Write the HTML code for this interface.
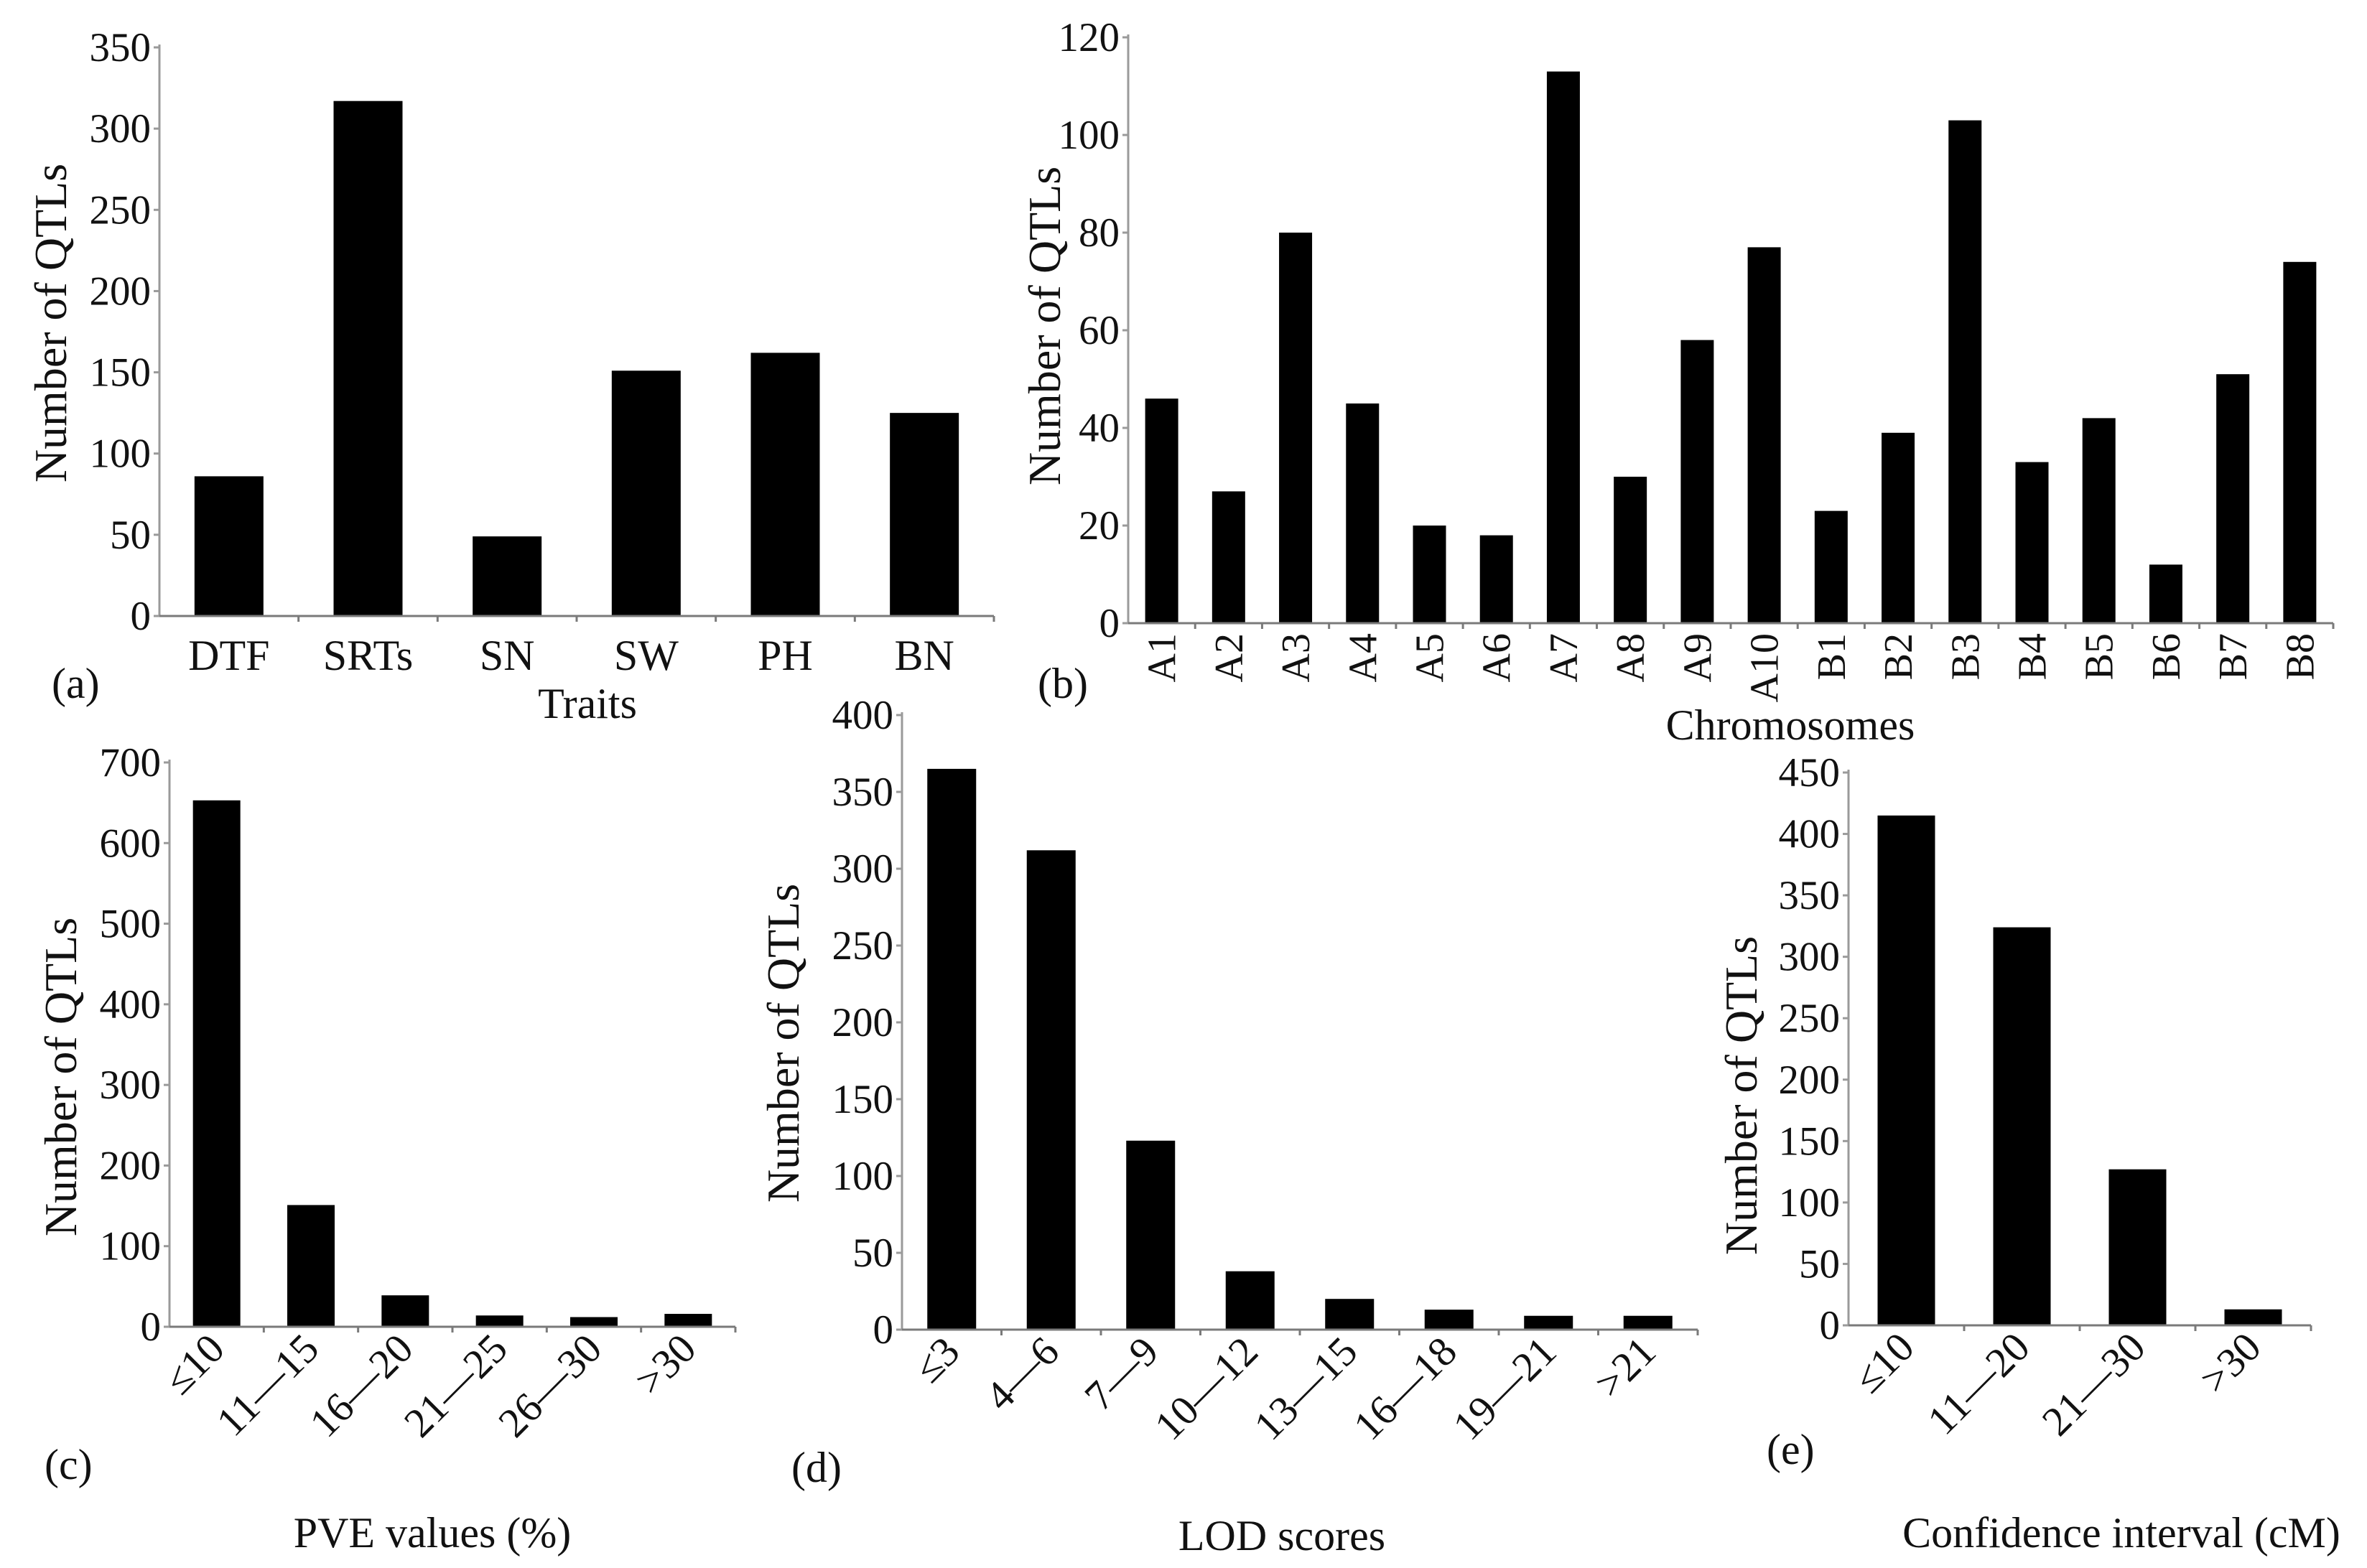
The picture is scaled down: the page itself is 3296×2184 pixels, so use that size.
<!DOCTYPE html>
<html>
<head>
<meta charset="utf-8">
<style>
html,body{margin:0;padding:0;background:#fff;}
svg{display:block;}
text{font-family:"Liberation Serif","DejaVu Serif",serif;fill:#111;}
</style>
</head>
<body>
<svg id="fig" width="3296" height="2184" viewBox="0 0 3296 2184" xmlns="http://www.w3.org/2000/svg">
<rect x="0" y="0" width="3296" height="2184" fill="#fff"/>
</svg>
<script>
// ---- data ----
const catsA = ["DTF","SRTs","SN","SW","PH","BN"];
const valsA = [86,317,49,151,162,125];
const ticksA = [0,50,100,150,200,250,300,350];

const catsB = ["A1","A2","A3","A4","A5","A6","A7","A8","A9","A10","B1","B2","B3","B4","B5","B6","B7","B8"];
const valsB = [46,27,80,45,20,18,113,30,58,77,23,39,103,33,42,12,51,74];
const ticksB = [0,20,40,60,80,100,120];

const catsC = ["\u226410","11\u201415","16\u201420","21\u201425","26\u201430",">30"];
const valsC = [653,151,39,14,12,16];
const ticksC = [0,100,200,300,400,500,600,700];

const catsD = ["\u22643","4\u20146","7\u20149","10\u201412","13\u201415","16\u201418","19\u201421",">21"];
const valsD = [365,312,123,38,20,13,9,9];
const ticksD = [0,50,100,150,200,250,300,350,400];

const catsE = ["\u226410","11\u201420","21\u201430",">30"];
const valsE = [415,324,127,13];
const ticksE = [0,50,100,150,200,250,300,350,400,450];

const NS = "http://www.w3.org/2000/svg";
const svg = document.getElementById("fig");
function mk(tag, attrs, parent, txt){
  const e = document.createElementNS(NS, tag);
  for (const k in attrs) e.setAttribute(k, attrs[k]);
  if (txt !== undefined) e.textContent = txt;
  (parent||svg).appendChild(e);
  return e;
}

function panel(p, cats, vals, ticks){
  const g = mk("g", {});
  
  
  const maxV = ticks[ticks.length-1];
  const yS = v => p.y0 - (p.y0 - p.yTop) * v / maxV;
  const band = (p.xEnd - p.x0) / cats.length;
  const xC = i => p.x0 + band * (i + 0.5);
  vals.forEach((v,i)=>{
    const r = mk("rect", {x: xC(i)-p.bw/2, y: yS(v), width: p.bw, height: p.y0 - yS(v), fill:"#000"}, g);
    
    
  });
  const ya = mk("line", {x1:p.x0, y1:p.yTop-4, x2:p.x0, y2:p.y0, stroke:"#9a9a9a", "stroke-width":3}, g);
  
  
  const xa = mk("line", {x1:p.x0-8, y1:p.y0, x2:p.xEnd, y2:p.y0, stroke:"#7a7a7a", "stroke-width":3}, g);
  
  
  for (let i=1;i<=cats.length;i++){
    mk("line", {x1:p.x0+band*i, y1:p.y0, x2:p.x0+band*i, y2:p.y0+8, stroke:"#7a7a7a","stroke-width":3}, g);
  }
  ticks.forEach(t=>{
    mk("line", {x1:p.x0-8, y1:yS(t), x2:p.x0, y2:yS(t), stroke:"#9a9a9a","stroke-width":3}, g);
    const tl = mk("text", {x:p.x0-12, y:yS(t)+19, "text-anchor":"end", "font-size":57}, g, String(t));
    
    
  });
  cats.forEach((c,i)=>{
    let t;
    if (p.rot === 0){
      t = mk("text", {x:xC(i), y:p.y0+75, "text-anchor":"middle", "font-size":60}, g, c);
    } else if (p.rot === 90){
      t = mk("text", {x:xC(i)+19, y:p.y0+14, "text-anchor":"end", "font-size":56,
        transform:`rotate(-90 ${xC(i)+19} ${p.y0+14})`}, g, c);
    } else {
      const ax = xC(i)+14, ay = p.y0+34;
      t = mk("text", {x:ax, y:ay, "text-anchor":"end", "font-size":58,
        transform:`rotate(-45 ${ax} ${ay})`}, g, c);
    }
    
    
  });
  const yt = mk("text", {x:p.ytx, y:p.yty, "text-anchor":"middle", "font-size":64,
    transform:`rotate(-90 ${p.ytx} ${p.yty})`}, g, "Number of QTLs");
  
  
  const xt = mk("text", {x:p.xtx, y:p.xty, "text-anchor":"middle", "font-size":60}, g, p.xtitle);
  
  
  const pl = mk("text", {x:p.lx, y:p.ly, "font-size":60}, g, p.letter);
  
  
}

panel({name:"panel-a-traits", x0:222, xEnd:1384, y0:858, yTop:66, bw:96, rot:0,
  ytx:92, yty:450, xtx:818, xty:1000, xtitle:"Traits", lx:72, ly:972, letter:"(a)"}, catsA, valsA, ticksA);

panel({name:"panel-b-chromosomes", x0:1571, xEnd:3249, y0:868, yTop:52, bw:46, rot:90,
  ytx:1476, yty:454, xtx:2493, xty:1030, xtitle:"Chromosomes", lx:1445, ly:972, letter:"(b)"}, catsB, valsB, ticksB);

panel({name:"panel-c-pve", x0:236, xEnd:1024, y0:1848, yTop:1062, bw:66, rot:45,
  ytx:106, yty:1500, xtx:602, xty:2155, xtitle:"PVE values (%)", lx:62, ly:2060, letter:"(c)"}, catsC, valsC, ticksC);

panel({name:"panel-d-lod", x0:1256, xEnd:2364, y0:1852, yTop:996, bw:68, rot:45,
  ytx:1112, yty:1453, xtx:1785, xty:2159, xtitle:"LOD scores", lx:1102, ly:2064, letter:"(d)"}, catsD, valsD, ticksD);

panel({name:"panel-e-confidence", x0:2574, xEnd:3218, y0:1846, yTop:1076, bw:80, rot:45,
  ytx:2446, yty:1526, xtx:2954, xty:2155, xtitle:"Confidence interval (cM)", lx:2460, ly:2039, letter:"(e)"}, catsE, valsE, ticksE);
</script>
</body>
</html>
